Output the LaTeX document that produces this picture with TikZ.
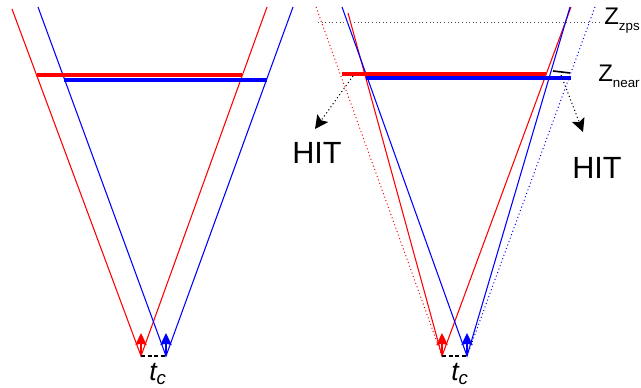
\documentclass[tikz,border=0pt]{standalone}
\usepackage{fontspec}
\setmainfont{Liberation Sans}
\usetikzlibrary{arrows.meta}

\begin{document}
\begin{tikzpicture}[x=0.75pt,y=-0.75pt]
\def\P{301}             % right panel shift
\tikzset{
  ray/.style={line width=0.8pt},
  ghost/.style={line width=0.75pt, dotted},
  bar/.style={line width=3pt},
  uparr/.style={-{Stealth[length=9pt,width=8.5pt,inset=1pt]}, line width=0.9pt},
  hitarr/.style={-{Stealth[length=10pt,width=10pt,inset=2pt]}, dotted, line width=0.8pt},
  hitlbl/.style={font=\fontsize{23}{23}\selectfont, inner sep=0pt, anchor=base},
  zlbl/.style={font=\fontsize{18}{18}\selectfont, inner sep=0pt, anchor=base west},
  tclbl/.style={font=\fontsize{20}{20}\selectfont\itshape, inner sep=0pt, anchor=base},
}
\useasboundingbox (0,0) rectangle (641,388);
\clip (0,0) rectangle (641,388);

% ---- left panel: two separate cones ----
\def\X{0}
\coordinate (rApexL) at (\X+141,356);
\coordinate (bApexL) at (\X+166,356);
\draw[red, ray] (\X+12,9) -- (rApexL) -- (\X+267,7);
\draw[blue, ray] (\X+38,7) -- (bApexL) -- (\X+293,7);
\draw[red, bar] (\X+37,75) -- (\X+242,75);
\draw[blue, bar] (\X+64,80) -- (\X+267,80);
\draw[red, uparr] (rApexL) -- ++(0,-23);
\draw[blue, uparr] (bApexL) -- ++(0,-23);
\draw[black, line width=1.2pt, dash pattern=on 3pt off 2pt] (rApexL) -- (bApexL);
\node[tclbl] (tcL) at (\X+158,380) {t\textsubscript{c}};

% ---- right panel: converged cones ----
\def\X{\P}
\coordinate (rApexR) at (\X+141,356);
\coordinate (bApexR) at (\X+166,356);
% original cones (dotted)
\draw[red, ghost] (\X+15,7) -- (rApexR);
\draw[blue, ghost] (\X+294,7) -- (bApexR);
% rotated cones
\draw[red, ray] (\X+47,13) -- (rApexR) -- (\X+270,7);
\draw[blue, ray] (\X+41,7) -- (bApexR) -- (\X+269,7);
\draw[black!70, dotted, line width=0.7pt] (\X+17,22) -- (\X+301,22);
\draw[red, bar] (\X+41,74) -- (\X+245,74);
\draw[blue, bar] (\X+65,78) -- (\X+270,78);
\draw[black, line width=1.2pt] (\X+252,71) -- (\X+269,73);
\draw[red, uparr] (rApexR) -- ++(0,-23);
\draw[blue, uparr] (bApexR) -- ++(0,-23);
\draw[black, line width=1.2pt, dash pattern=on 3pt off 2pt] (rApexR) -- (bApexR);
\node[tclbl] (tcR) at (\X+159,380) {t\textsubscript{c}};

% labels
\node[zlbl] (zzps) at (604,25) {Z\raisebox{-3.8pt}{\fontsize{10}{10}\selectfont zps}};
\node[zlbl] (znear) at (598,82) {Z\raisebox{-4.5pt}{\fontsize{10}{10}\selectfont near}};
\node[hitlbl] (hitL) at (317,164) {HIT};
\node[hitlbl] (hitR) at (597,179) {HIT};
\coordinate (srcL) at (353,76);
\coordinate (tipL) at (315,129);
\coordinate (srcR) at (561,75);
\coordinate (tipR) at (583,132);
\draw[hitarr] (srcL) -- (tipL);
\draw[hitarr] (srcR) -- (tipR);
\end{tikzpicture}
\end{document}
